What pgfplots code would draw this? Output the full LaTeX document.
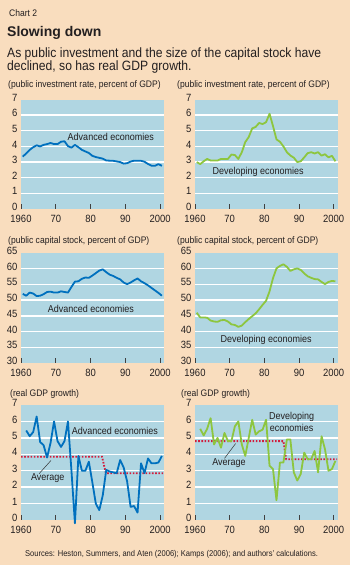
\documentclass[border=0pt]{standalone}
\usepackage{fontspec}
\setmainfont{Liberation Sans}[FakeStretch=0.9]
\newfontfamily\titlefont{Liberation Sans}
\usepackage{pgfplots}
\pgfplotsset{compat=1.18}
\definecolor{peach}{RGB}{249,221,190}
\definecolor{plotbg}{RGB}{176,214,226}
\definecolor{advblue}{RGB}{0,112,190}
\definecolor{devgreen}{RGB}{141,198,63}
\definecolor{avgred}{RGB}{210,28,60}
\definecolor{txt}{RGB}{35,31,32}
\pgfplotsset{
 panel/.style={
  scale only axis, anchor=south west,
  xmin=1960, xmax=2001.1,
  axis background/.style={fill=plotbg},
  axis line style={draw=none},
  xtick={1960,1970,1980,1990,2000},
  xticklabels={1960,70,80,90,2000},
  xtick pos=bottom, ytick pos=left,
  xtick align=inside,
  major tick length=5pt,
  xtick style={draw=black!75, line width=0.7pt},
  ytick style={draw=none},
  ymajorgrids,
  grid style={white, line width=1.3pt},
  tick label style={font=\fontsize{10.5}{11}\selectfont, text=txt},
  /pgf/number format/assume math mode=true,
  xticklabel style={yshift=-3pt},
  yticklabel style={yshift=2pt},
  clip=false,
 },
 pct/.style={panel, ymin=0, ymax=7, ytick={1,...,6}, extra y ticks={0,7}, extra y tick style={grid=none}},
 stock/.style={panel, ymin=30, ymax=65, ytick={35,40,...,60}, extra y ticks={30,65}, extra y tick style={grid=none}},
 adv/.style={advblue, line width=1.8pt, line join=round, no marks},
 dev/.style={devgreen, line width=1.8pt, line join=round, no marks},
 avg/.style={avgred, line width=1.8pt, dash pattern=on 1.6pt off 1.6pt, no marks},
}
\tikzset{lab/.style={font=\fontsize{10}{11.5}\selectfont, text=txt, inner sep=0pt}}
\newcommand{\hdr}{\fontsize{9.5}{11}\selectfont}
\begin{document}
\begin{tikzpicture}
\fill[peach] (0pt,0pt) rectangle (350pt,565pt);
\node[anchor=base west, inner sep=0pt, text=txt, font=\fontsize{9.5}{11}\selectfont] at (9pt,548pt) {Chart 2};
\node[anchor=base west, inner sep=0pt, text=txt, font=\titlefont\bfseries\fontsize{14}{16}\selectfont] at (7pt,528.5pt) {Slowing down};
\node[anchor=base west, inner sep=0pt, text=txt, font=\fontsize{13.5}{15}\selectfont] at (7pt,507pt) {As public investment and the size of the capital stock have};
\node[anchor=base west, inner sep=0pt, text=txt, font=\fontsize{13.5}{15}\selectfont] at (7pt,494pt) {declined, so has real GDP growth.};
% headers
\node[anchor=base west, inner sep=0pt, text=txt, font=\hdr] at (8pt,477pt) {(public investment rate, percent of GDP)};
\node[anchor=base west, inner sep=0pt, text=txt, font=\hdr] at (177pt,477pt) {(public investment rate, percent of GDP)};
\node[anchor=base west, inner sep=0pt, text=txt, font=\hdr] at (8pt,321pt) {(public capital stock, percent of GDP)};
\node[anchor=base west, inner sep=0pt, text=txt, font=\hdr] at (177pt,321pt) {(public capital stock, percent of GDP)};
\node[anchor=base west, inner sep=0pt, text=txt, font=\hdr] at (10pt,168pt) {(real GDP growth)};
\node[anchor=base west, inner sep=0pt, text=txt, font=\hdr] at (181pt,168pt) {(real GDP growth)};
\node[anchor=base west, inner sep=0pt, text=txt, font=\fontsize{8.4}{10}\selectfont] at (25pt,9pt) {Sources: Heston, Summers, and Aten (2006); Kamps (2006); and authors' calculations.};

% Panel 1
\begin{axis}[pct, at={(21pt,356pt)}, width=143pt, height=109.5pt]
\addplot[adv] coordinates {(1960.5,3.35)(1961.5,3.55)(1962.5,3.78)(1963.5,3.95)(1964.5,4.07)(1965.5,4.0)(1966.5,4.1)(1967.5,4.15)(1968.5,4.22)(1969.5,4.15)(1970.5,4.15)(1971.5,4.3)(1972.5,4.33)(1973.5,4.02)(1974.5,3.92)(1975.5,4.1)(1976.5,3.95)(1977.5,3.78)(1978.5,3.68)(1979.5,3.58)(1980.5,3.4)(1981.5,3.32)(1982.5,3.27)(1983.5,3.22)(1984.5,3.1)(1985.5,3.09)(1986.5,3.08)(1987.5,3.04)(1988.5,3.0)(1989.5,2.9)(1990.5,2.93)(1991.5,3.03)(1992.5,3.09)(1993.5,3.09)(1994.5,3.08)(1995.5,3.02)(1996.5,2.88)(1997.5,2.77)(1998.5,2.76)(1999.5,2.87)(2000.5,2.76)};
\node[lab] at (axis cs:1985.8,4.6) {Advanced economies};
\end{axis}
% Panel 2
\begin{axis}[pct, at={(195pt,356pt)}, width=142.5pt, height=109.5pt]
\addplot[dev] coordinates {(1960.5,3.0)(1961.5,2.87)(1962.5,3.05)(1963.5,3.2)(1964.5,3.1)(1965.5,3.1)(1966.5,3.1)(1967.5,3.2)(1968.5,3.2)(1969.5,3.2)(1970.5,3.48)(1971.5,3.45)(1972.5,3.2)(1973.5,3.63)(1974.5,4.28)(1975.5,4.6)(1976.5,5.15)(1977.5,5.25)(1978.5,5.5)(1979.5,5.43)(1980.5,5.55)(1981.5,6.09)(1982.5,5.3)(1983.5,4.45)(1984.5,4.3)(1985.5,4.0)(1986.5,3.63)(1987.5,3.42)(1988.5,3.28)(1989.5,3.0)(1990.5,3.05)(1991.5,3.3)(1992.5,3.57)(1993.5,3.63)(1994.5,3.55)(1995.5,3.63)(1996.5,3.41)(1997.5,3.5)(1998.5,3.3)(1999.5,3.4)(2000.5,3.05)};
\node[lab] at (axis cs:1978.2,2.37) {Developing economies};
\end{axis}
% Panel 3
\begin{axis}[stock, at={(21pt,202pt)}, width=143pt, height=110pt]
\addplot[adv] coordinates {(1960.5,52.0)(1961.5,51.4)(1962.5,52.4)(1963.5,52.1)(1964.5,51.3)(1965.5,51.4)(1966.5,51.9)(1967.5,52.6)(1968.5,52.7)(1969.5,52.4)(1970.5,52.4)(1971.5,52.8)(1972.5,52.6)(1973.5,52.4)(1974.5,54.2)(1975.5,55.9)(1976.5,56.0)(1977.5,56.8)(1978.5,57.2)(1979.5,57.1)(1980.5,57.8)(1981.5,58.6)(1982.5,59.4)(1983.5,59.8)(1984.5,58.9)(1985.5,58.1)(1986.5,57.7)(1987.5,57.1)(1988.5,56.6)(1989.5,55.6)(1990.5,55.1)(1991.5,55.6)(1992.5,56.3)(1993.5,56.9)(1994.5,56.0)(1995.5,55.4)(1996.5,54.7)(1997.5,53.9)(1998.5,53.1)(1999.5,52.3)(2000.5,51.4)};
\node[lab] at (axis cs:1980.1,47.2) {Advanced economies};
\end{axis}
% Panel 4
\begin{axis}[stock, at={(195pt,202pt)}, width=142.5pt, height=110pt]
\addplot[dev] coordinates {(1960.5,46.0)(1961.5,44.5)(1962.5,44.5)(1963.5,44.4)(1964.5,43.5)(1965.5,43.2)(1966.5,43.1)(1967.5,43.6)(1968.5,43.7)(1969.5,43.2)(1970.5,42.3)(1971.5,42.1)(1972.5,41.5)(1973.5,41.9)(1974.5,43.0)(1975.5,44.0)(1976.5,44.9)(1977.5,45.8)(1978.5,47.1)(1979.5,48.5)(1980.5,49.8)(1981.5,52.8)(1982.5,57.0)(1983.5,60.1)(1984.5,60.9)(1985.5,61.4)(1986.5,60.6)(1987.5,59.3)(1988.5,59.8)(1989.5,60.1)(1990.5,59.6)(1991.5,58.5)(1992.5,57.6)(1993.5,57.1)(1994.5,56.7)(1995.5,56.6)(1996.5,55.8)(1997.5,55.1)(1998.5,55.8)(1999.5,56.1)(2000.5,56.0)};
\node[lab] at (axis cs:1980.5,37.3) {Developing economies};
\end{axis}
% Panel 5
\begin{axis}[pct, at={(21pt,45pt)}, width=143pt, height=115pt]
\addplot[avg] coordinates {(1960,3.85)(1983.3,3.85)(1984.4,2.85)(2001,2.85)};
\addplot[adv] coordinates {(1961.5,5.45)(1962.5,5.1)(1963.5,5.35)(1964.5,6.3)(1965.5,4.75)(1966.5,4.55)(1967.5,3.8)(1968.5,4.7)(1969.5,6.0)(1970.5,4.8)(1971.5,4.45)(1972.5,4.8)(1973.5,6.0)(1974.5,3.0)(1975.5,-0.2)(1976.5,3.9)(1977.5,3.0)(1978.5,3.0)(1979.5,3.55)(1980.5,2.3)(1981.5,1.0)(1982.5,0.6)(1983.5,1.5)(1984.5,3.05)(1985.5,2.95)(1986.5,2.9)(1987.5,2.85)(1988.5,3.65)(1989.5,3.2)(1990.5,2.35)(1991.5,0.8)(1992.5,0.85)(1993.5,0.45)(1994.5,3.45)(1995.5,2.85)(1996.5,3.75)(1997.5,3.45)(1998.5,3.45)(1999.5,3.5)(2000.5,3.9)};
\node[lab] at (axis cs:1987,5.42) {Advanced economies};
\node[lab] at (axis cs:1967.7,2.54) {Average};
\draw[black!80, line width=0.5pt] (axis cs:1965.2,2.82) -- (axis cs:1968.6,3.62);
\end{axis}
% Panel 6
\begin{axis}[pct, at={(195pt,45pt)}, width=142.5pt, height=115pt]
\addplot[avg] coordinates {(1960,4.8)(1985.5,4.8)(1986.3,3.7)(2001,3.7)};
\addplot[dev] coordinates {(1961.5,5.55)(1962.5,5.15)(1963.5,5.55)(1964.5,6.2)(1965.5,4.6)(1966.5,5.0)(1967.5,4.4)(1968.5,5.3)(1969.5,4.8)(1970.5,4.8)(1971.5,5.7)(1972.5,6.0)(1973.5,4.6)(1974.5,3.9)(1975.5,5.0)(1976.5,6.1)(1977.5,5.2)(1978.5,5.4)(1979.5,5.5)(1980.5,6.1)(1981.5,3.3)(1982.5,3.1)(1983.5,1.2)(1984.5,3.5)(1985.5,3.5)(1986.5,4.9)(1987.5,4.9)(1988.5,2.9)(1989.5,2.4)(1990.5,2.8)(1991.5,4.1)(1992.5,3.7)(1993.5,3.7)(1994.5,4.2)(1995.5,2.9)(1996.5,5.1)(1997.5,4.3)(1998.5,3.0)(1999.5,3.1)(2000.5,3.6)};
\node[lab, align=center] at (axis cs:1987.9,5.97) {Developing\\economies};
\node[lab] at (axis cs:1969.8,3.46) {Average};
\draw[black!80, line width=0.5pt] (axis cs:1968.5,3.75) -- (axis cs:1971.7,4.65);
\end{axis}
\end{tikzpicture}
\end{document}
